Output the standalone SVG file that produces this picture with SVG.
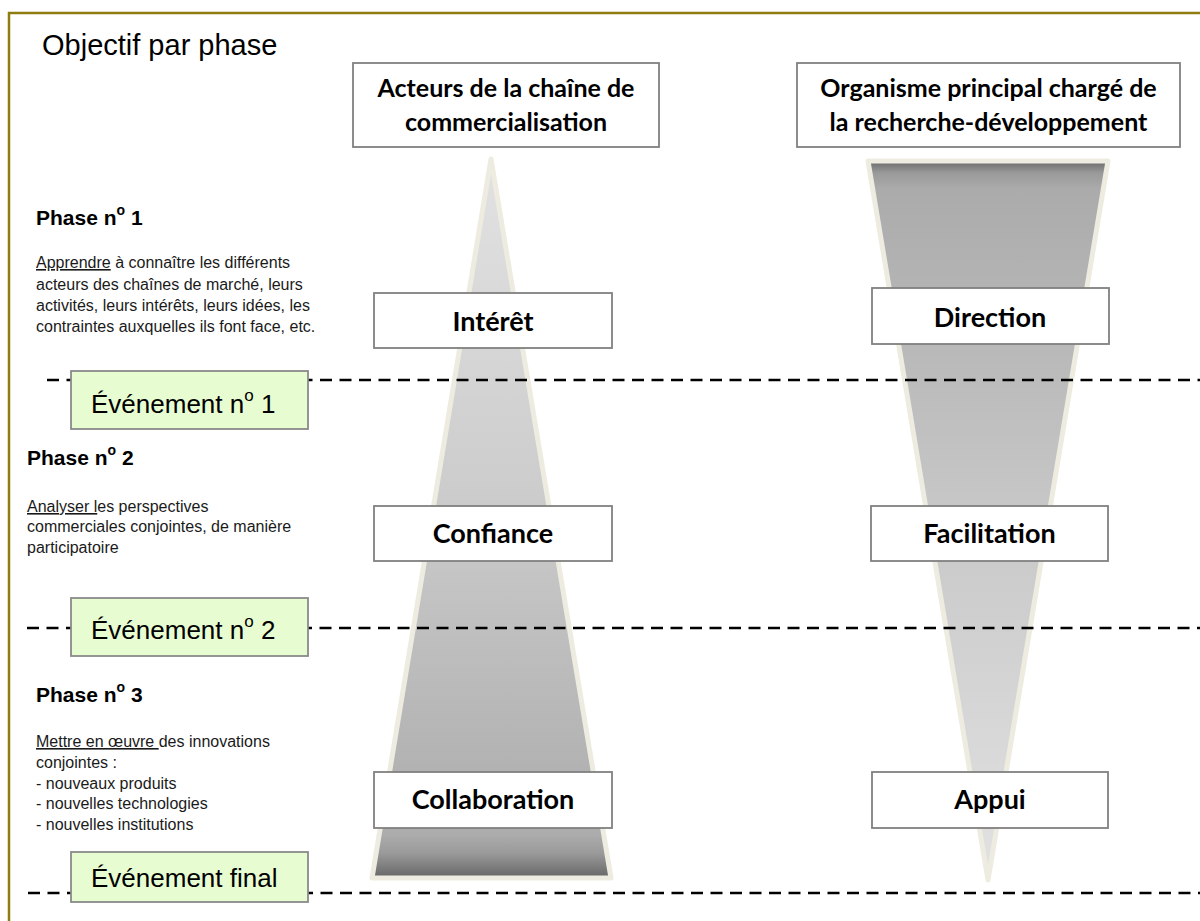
<svg xmlns="http://www.w3.org/2000/svg" width="1200" height="921" viewBox="0 0 1200 921">
<defs>
<linearGradient id="gUp" gradientUnits="userSpaceOnUse" x1="0" y1="160" x2="0" y2="878">
<stop offset="0" stop-color="#e2e2e2"/>
<stop offset="0.45" stop-color="#cdcdcd"/>
<stop offset="0.94" stop-color="#acacac"/>
<stop offset="0.965" stop-color="#9a9a9a"/>
<stop offset="1" stop-color="#666666"/>
</linearGradient>
<linearGradient id="gDown" gradientUnits="userSpaceOnUse" x1="0" y1="160" x2="0" y2="880">
<stop offset="0" stop-color="#666666"/>
<stop offset="0.018" stop-color="#9a9a9a"/>
<stop offset="0.04" stop-color="#ababab"/>
<stop offset="0.5" stop-color="#c8c8c8"/>
<stop offset="1" stop-color="#e2e2e2"/>
</linearGradient>
</defs>
<style>
.frame{fill:none;stroke:#8f7d12;stroke-width:2.5}
.tri{stroke:#eeece0;stroke-width:5;stroke-linejoin:round}
.box{fill:#ffffff;stroke:#808080;stroke-width:1.8}
.evt{fill:#e8fcd2;stroke:#8a8a8a;stroke-width:1.8}
.dash{stroke:#000;stroke-width:2.5;stroke-dasharray:12 7.5;fill:none}
.hdr{font-family:Lato,"Open Sans",sans-serif;font-weight:bold;font-size:25px;fill:#000;text-anchor:middle}
.lbl{font-family:Lato,"Open Sans",sans-serif;font-weight:bold;font-size:27px;fill:#000;text-anchor:middle}
.title{font-family:"Liberation Sans",Arial,sans-serif;font-size:29px;fill:#000}
.ph{font-family:"Liberation Sans",Arial,sans-serif;font-weight:bold;font-size:21px;fill:#000}
.body{font-family:"Liberation Sans",Arial,sans-serif;font-size:16px;fill:#1a1a1a}
.u{text-decoration:underline}
.ev{font-family:"Liberation Sans",Arial,sans-serif;font-size:26px;fill:#000}
</style>
<rect class="frame" x="9" y="13" width="1210" height="940"/>
<text class="title" x="42" y="55">Objectif par phase</text>

<g id="tri-left"><polygon class="tri" points="491,159 372,878 611,878" fill="url(#gUp)"/></g>
<g id="tri-right"><polygon class="tri" points="868,161 1108,161 988,880" fill="url(#gDown)"/></g>

<g id="connectors">
<line class="dash" x1="47" y1="380" x2="1200" y2="380"/>
<line class="dash" x1="27" y1="628" x2="1200" y2="628"/>
<line class="dash" x1="28" y1="893" x2="1200" y2="893"/>
</g>

<g id="hdr-left"><rect class="box" x="353" y="63" width="306" height="84"/>
<text class="hdr" x="506" y="97">Acteurs de la chaîne de</text>
<text class="hdr" x="506" y="131">commercialisation</text></g>
<g id="hdr-right"><rect class="box" x="797" y="63" width="383" height="84"/>
<text class="hdr" x="988.5" y="97">Organisme principal chargé de</text>
<text class="hdr" x="988.5" y="131">la recherche-développement</text></g>

<g id="interet"><rect class="box" x="374" y="293" width="238" height="55"/><text class="lbl" x="493" y="331">Intérêt</text></g>
<g id="direction"><rect class="box" x="872" y="288" width="237" height="56"/><text class="lbl" x="990" y="327">Direction</text></g>
<g id="confiance"><rect class="box" x="374" y="506" width="238" height="55"/><text class="lbl" x="493" y="543">Confiance</text></g>
<g id="facilitation"><rect class="box" x="871" y="506" width="237" height="55"/><text class="lbl" x="989.5" y="543">Facilitation</text></g>
<g id="collaboration"><rect class="box" x="374" y="772" width="238" height="56"/><text class="lbl" x="493" y="809">Collaboration</text></g>
<g id="appui"><rect class="box" x="872" y="772" width="236" height="56"/><text class="lbl" x="990" y="809">Appui</text></g>

<g id="evt1"><rect class="evt" x="71" y="371" width="237" height="58"/>
<text class="ev" x="91" y="413">Événement n<tspan font-size="17" dy="-12">o</tspan><tspan dy="12"> 1</tspan></text></g>
<g id="evt2"><rect class="evt" x="71" y="598" width="237" height="58"/>
<text class="ev" x="91" y="639">Événement n<tspan font-size="17" dy="-12">o</tspan><tspan dy="12"> 2</tspan></text></g>
<g id="evt3"><rect class="evt" x="71" y="852" width="237" height="50"/>
<text class="ev" x="91" y="887">Événement final</text></g>

<g id="phase1">
<text class="ph" x="36" y="225">Phase n<tspan font-size="14" dy="-10">o</tspan><tspan dy="10"> 1</tspan></text>
<text class="body" x="36" y="268"><tspan class="u">Apprendre</tspan> à connaître les différents</text>
<text class="body" x="36" y="289.5">acteurs des chaînes de marché, leurs</text>
<text class="body" x="36" y="310.5">activités, leurs intérêts, leurs idées, les</text>
<text class="body" x="36" y="331.5">contraintes auxquelles ils font face, etc.</text>
</g>
<g id="phase2">
<text class="ph" x="27" y="465">Phase n<tspan font-size="14" dy="-10">o</tspan><tspan dy="10"> 2</tspan></text>
<text class="body" x="27" y="512" xml:space="preserve"><tspan class="u">Analyser l</tspan>es perspectives</text>
<text class="body" x="27" y="532">commerciales conjointes, de manière</text>
<text class="body" x="27" y="552.5">participatoire</text>
</g>
<g id="phase3">
<text class="ph" x="36" y="702">Phase n<tspan font-size="14" dy="-10">o</tspan><tspan dy="10"> 3</tspan></text>
<text class="body" x="36" y="747" xml:space="preserve"><tspan class="u">Mettre en œuvre </tspan>des innovations</text>
<text class="body" x="36" y="767.5">conjointes :</text>
<text class="body" x="36" y="788.5">- nouveaux produits</text>
<text class="body" x="36" y="809">- nouvelles technologies</text>
<text class="body" x="36" y="830">- nouvelles institutions</text>
</g>
</svg>
